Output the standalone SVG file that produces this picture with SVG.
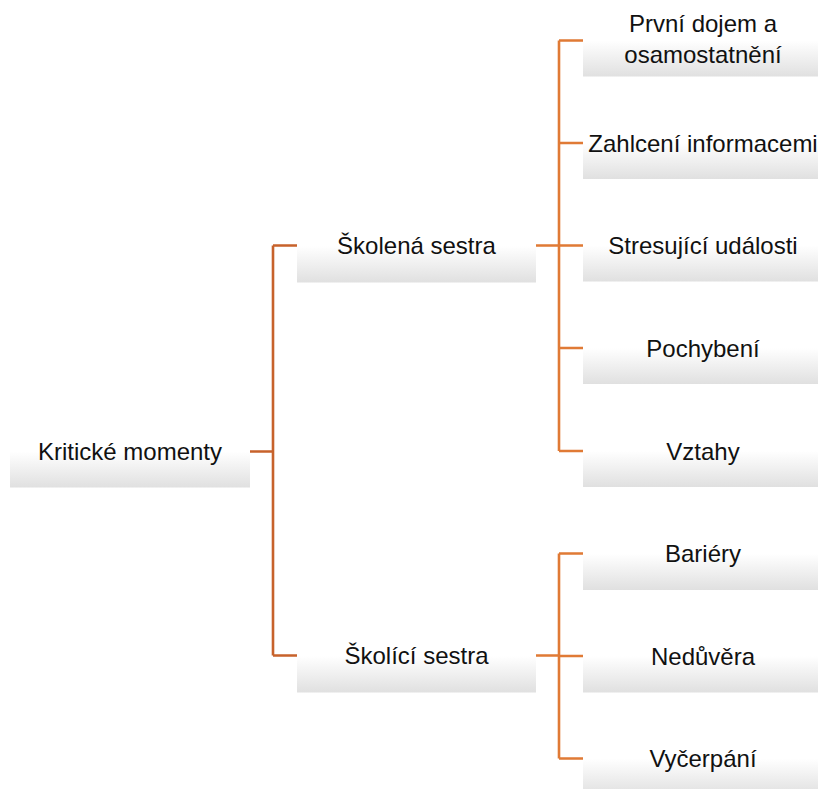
<svg xmlns="http://www.w3.org/2000/svg" width="818" height="789" viewBox="0 0 818 789">
  <defs>
    <linearGradient id="boxFill" x1="0" y1="0" x2="0" y2="1">
      <stop offset="0" stop-color="#ffffff"/>
      <stop offset="0.5" stop-color="#ffffff"/>
      <stop offset="1" stop-color="#e0e0e0"/>
    </linearGradient>
    <style>
      .box { fill: url(#boxFill); }
      .label { font-family: "Liberation Sans", Arial, sans-serif; font-size: 24px; fill: #111111; text-anchor: middle; }
      .link1 { fill: none; stroke: #C7622B; stroke-width: 2.6; }
      .link2 { fill: none; stroke: #E07A35; stroke-width: 2.6; }
    </style>
  </defs>

  <rect width="818" height="789" fill="#ffffff"/>

  <!-- connectors -->
  <g id="connectors">
    <path class="link1" d="M250 451.5 H273 M273 245.5 V655.5 M273 245.5 H297 M273 655.5 H297"/>
    <path class="link2" d="M536 245.5 H559 M559 40.5 V451 M559 40.5 H583 M559 143 H583 M559 245.5 H583 M559 348 H583 M559 451 H583"/>
    <path class="link2" d="M536 655.5 H559 M559 553.5 V758.5 M559 553.5 H583 M559 656 H583 M559 758.5 H583"/>
  </g>

  <!-- root -->
  <g id="kriticke-momenty">
    <rect class="box" x="10" y="415.5" width="240" height="72"/>
    <text class="label" x="130" y="460">Kritické momenty</text>
  </g>

  <!-- second level -->
  <g id="skolena-sestra">
    <rect class="box" x="297" y="209.5" width="239" height="73"/>
    <text class="label" x="416.5" y="254">Školená sestra</text>
  </g>
  <g id="skolici-sestra">
    <rect class="box" x="297" y="619.5" width="239" height="73"/>
    <text class="label" x="416.5" y="664">Školící sestra</text>
  </g>

  <!-- third level, trained nurse -->
  <g id="prvni-dojem">
    <rect class="box" x="583" y="4.5" width="240" height="72"/>
    <text class="label" x="703" y="31.5">První dojem a</text>
    <text class="label" x="703" y="63.3">osamostatnění</text>
  </g>
  <g id="zahlceni">
    <rect class="box" x="583" y="107" width="240" height="72"/>
    <text class="label" x="703" y="151.5">Zahlcení informacemi</text>
  </g>
  <g id="stresujici-udalosti">
    <rect class="box" x="583" y="209.5" width="240" height="72"/>
    <text class="label" x="703" y="254">Stresující události</text>
  </g>
  <g id="pochybeni">
    <rect class="box" x="583" y="312" width="240" height="72"/>
    <text class="label" x="703" y="356.5">Pochybení</text>
  </g>
  <g id="vztahy">
    <rect class="box" x="583" y="415" width="240" height="72"/>
    <text class="label" x="703" y="459.5">Vztahy</text>
  </g>

  <!-- third level, training nurse -->
  <g id="bariery">
    <rect class="box" x="583" y="517.5" width="240" height="72.5"/>
    <text class="label" x="703" y="562">Bariéry</text>
  </g>
  <g id="neduvera">
    <rect class="box" x="583" y="620" width="240" height="72.5"/>
    <text class="label" x="703" y="664.5">Nedůvěra</text>
  </g>
  <g id="vycerpani">
    <rect class="box" x="583" y="722.5" width="240" height="72.5"/>
    <text class="label" x="703" y="767">Vyčerpání</text>
  </g>
</svg>
